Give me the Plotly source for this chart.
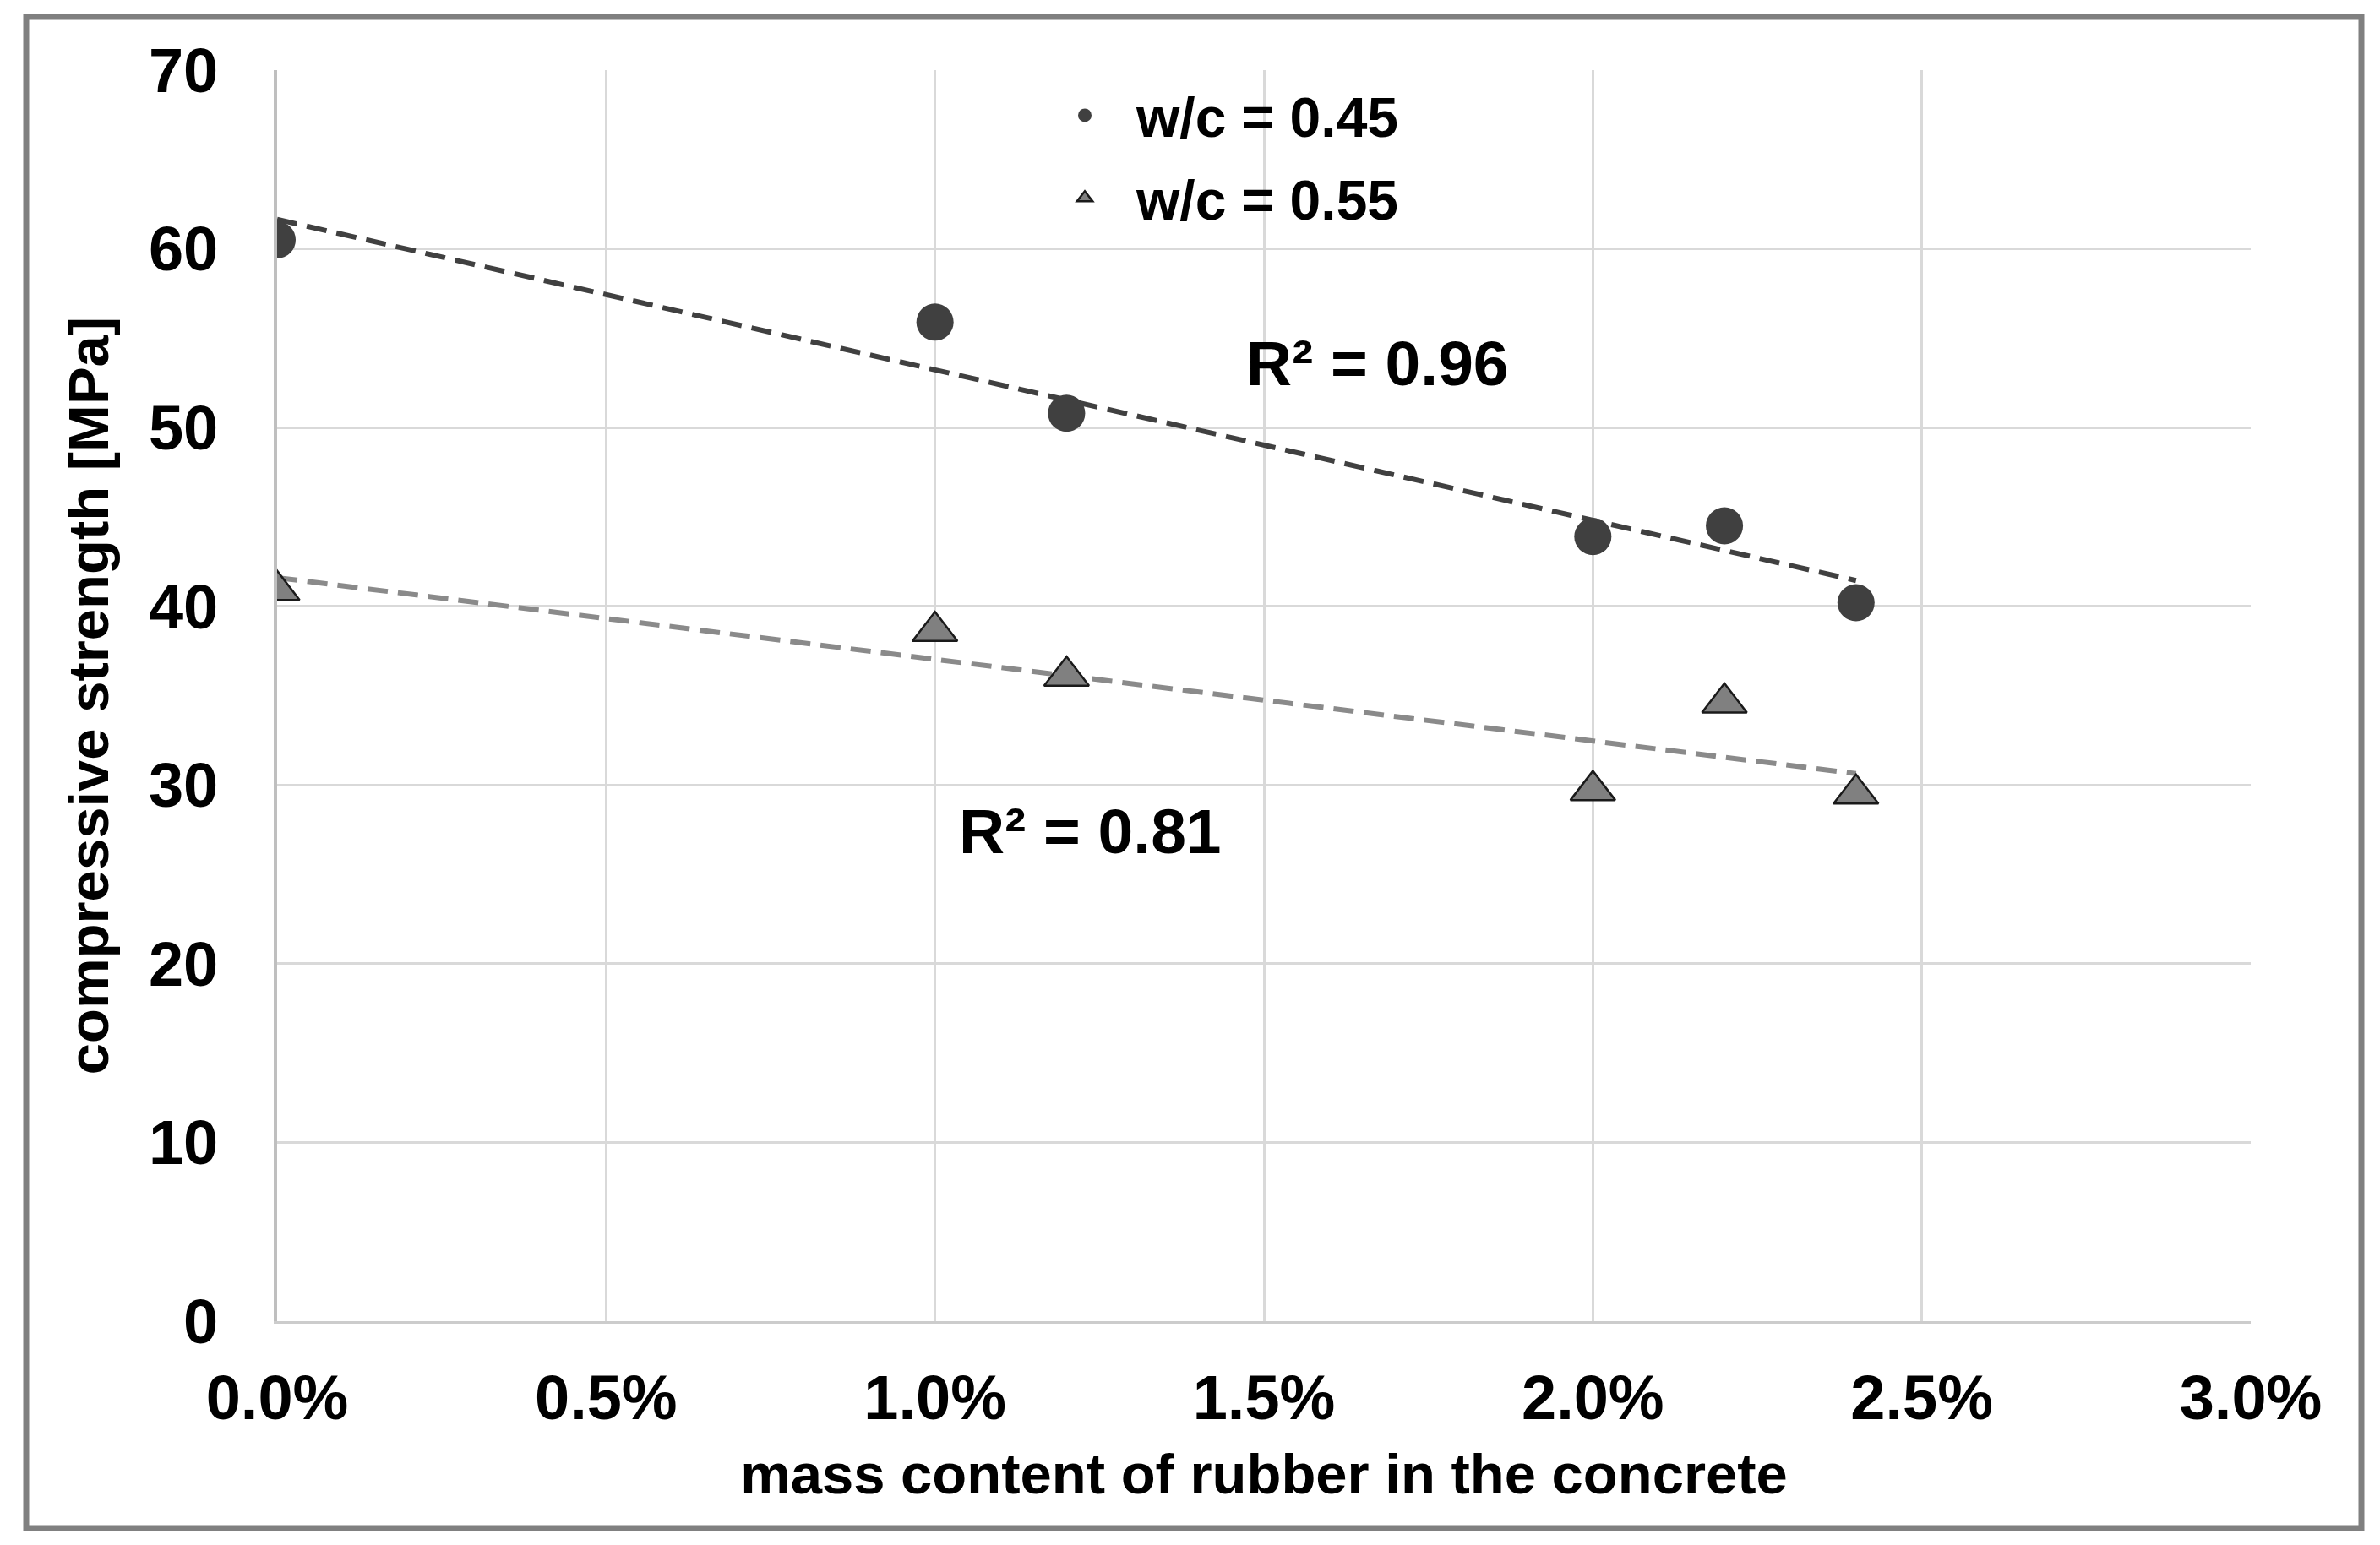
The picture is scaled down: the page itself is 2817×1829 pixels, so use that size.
import numpy as np
import plotly.graph_objects as go

# ---------------- data ----------------
rubber_content = [0.0, 0.010, 0.012, 0.020, 0.022, 0.024]      # mass fraction
strength_wc045 = [60.5, 55.9, 50.8, 43.9, 44.5, 40.2]          # MPa
strength_wc055 = [40.9, 38.6, 36.1, 29.7, 34.6, 29.5]          # MPa
series_names = ["w/c = 0.45", "w/c = 0.55"]
r2_labels = ["R² = 0.96", "R² = 0.81"]
r2_label_x = [0.01673, 0.01236]
r2_label_y = [53.6, 27.4]
x_tick_vals = [0.0, 0.005, 0.010, 0.015, 0.020, 0.025, 0.030]
y_tick_vals = [0, 10, 20, 30, 40, 50, 60, 70]
x_title = "mass content of rubber in the concrete"
y_title = "compressive strength [MPa]"

# ---------------- styling ----------------
PAGE_W, PAGE_H = 2817, 1829
OFF = 8                                  # default body margin of the html page
W, H = PAGE_W - 2 * OFF, PAGE_H - 2 * OFF
ML, MT = 328 - OFF, 83 - OFF
MR = W - (2664 - OFF)
MB = H - (1564 - OFF)
PW, PH = W - ML - MR, H - MT - MB
FONT = "Liberation Sans, Arial, Helvetica, sans-serif"
DARK = "#404040"
MID = "#808080"
TREND2 = "#8a8a8a"
GRID = "#d9d9d9"


def px_to_paper_x(px):
    return (px - OFF - ML) / PW


def px_to_paper_y(py):
    return (H - MB - (py - OFF)) / PH


x_arr = np.array(rubber_content)
fits = [np.polyfit(x_arr, np.array(s), 1) for s in (strength_wc045, strength_wc055)]
x_line = np.array([x_arr.min(), x_arr.max()])

fig = go.Figure()

# trend lines (under markers)
for coef, col in zip(fits, (DARK, TREND2)):
    fig.add_trace(go.Scatter(
        x=x_line, y=np.polyval(coef, x_line), mode="lines",
        line=dict(color=col, width=6, dash="24px,12px"),
        showlegend=False, hoverinfo="skip",
    ))

fig.add_trace(go.Scatter(
    x=rubber_content, y=strength_wc045, mode="markers", name=series_names[0],
    legendgroup="a",
    marker=dict(symbol="circle", size=44, color=DARK, line=dict(width=0)),
))
fig.add_trace(go.Scatter(
    x=rubber_content, y=strength_wc055, mode="markers", name=series_names[1],
    legendgroup="b",
    marker=dict(symbol="triangle-up", size=46, color=MID,
                line=dict(width=2.5, color="#1a1a1a")),
))

for txt, ax_, ay_ in zip(r2_labels, r2_label_x, r2_label_y):
    fig.add_annotation(x=ax_, y=ay_, xref="x", yref="y", text=txt, showarrow=False,
                       font=dict(family=FONT, size=75, color="#000000", weight="bold"),
                       xanchor="center", yanchor="middle")

# outer grey frame
fig.add_shape(type="rect", xref="paper", yref="paper",
              x0=px_to_paper_x(31), x1=px_to_paper_x(2795),
              y0=px_to_paper_y(1809), y1=px_to_paper_y(20),
              line=dict(color="#808080", width=7), fillcolor="rgba(0,0,0,0)",
              layer="below")

fig.update_layout(
    width=W, height=H,
    margin=dict(l=ML, r=MR, t=MT, b=MB, autoexpand=False),
    paper_bgcolor="white", plot_bgcolor="white",
    font=dict(family=FONT, color="#000000"),
    showlegend=True,
    legend=dict(
        x=px_to_paper_x(1223), y=px_to_paper_y(87), xanchor="left", yanchor="top",
        bgcolor="rgba(255,255,255,0)", borderwidth=0,
        font=dict(family=FONT, size=66, color="#000000", weight="bold"),
        itemwidth=112, traceorder="grouped", tracegroupgap=9,
    ),
    xaxis=dict(
        range=[0, 0.03], tickvals=x_tick_vals, tickformat=".1%",
        showgrid=True, gridcolor=GRID, gridwidth=2.5,
        showline=True, linecolor="#cccccc", linewidth=3, mirror=False,
        zeroline=False, ticks="", ticklabelstandoff=24,
        tickfont=dict(family=FONT, size=74, color="#000000", weight="bold"),
        title=dict(text=x_title, standoff=27,
                   font=dict(family=FONT, size=67, color="#000000", weight="bold")),
        automargin=False,
    ),
    yaxis=dict(
        range=[0, 70], tickvals=y_tick_vals,
        showgrid=True, gridcolor=GRID, gridwidth=2.5,
        showline=True, linecolor="#bfbfbf", linewidth=4, mirror=False,
        zeroline=False, ticks="", ticklabelstandoff=51,
        tickfont=dict(family=FONT, size=74, color="#000000", weight="bold"),
        title=dict(text=y_title, standoff=26,
                   font=dict(family=FONT, size=67, color="#000000", weight="bold")),
        automargin=False,
    ),
)

fig.write_html("out.html")
